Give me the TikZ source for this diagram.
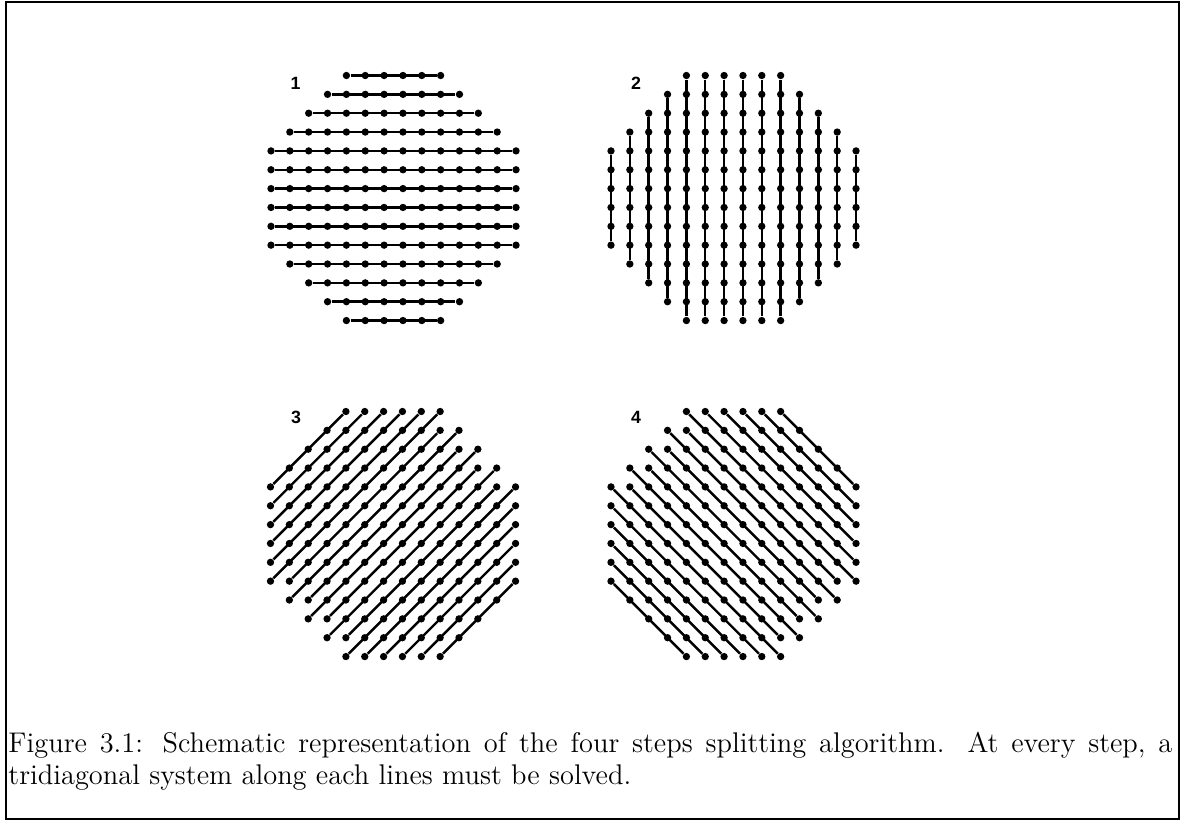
\documentclass[tikz,border=0pt]{standalone}
\usepackage{fontspec}
\newfontfamily\numfont{Liberation Sans}
\usetikzlibrary{positioning}

\begin{document}
\begin{tikzpicture}[
    x=0.45pt, y=-0.45pt,
    dot/.style={circle, fill=black, inner sep=0pt, minimum size=3.3pt},
    gridline/.style={line width=1.1pt},
    steplabel/.style={font=\numfont\bfseries\fontsize{8}{9}\selectfont, inner sep=0pt},
    frame/.style={line width=1pt}
]
\useasboundingbox (0,0) rectangle (1182,821);

% Frame
\draw[frame] (6,2) rectangle (1179,819);

\def\h{18.85}

% Step 1: horizontal lines
\begin{scope}[shift={(271,75.5)}]
\foreach \i in {0,...,13} {
  \pgfmathtruncatemacro\k{max(0,4-\i,\i-9)}
  \pgfmathtruncatemacro\l{13-\k}
  \foreach \j in {\k,...,\l}
    \node[dot] (a-\i-\j) at (\j*\h,\i*\h) {};
  \draw[gridline] (a-\i-\k) -- (a-\i-\l);
}
\end{scope}

% Step 2: vertical lines
\begin{scope}[shift={(611,75.5)}]
\foreach \j in {0,...,13} {
  \pgfmathtruncatemacro\k{max(0,4-\j,\j-9)}
  \pgfmathtruncatemacro\l{13-\k}
  \foreach \i in {\k,...,\l}
    \node[dot] (b-\i-\j) at (\j*\h,\i*\h) {};
  \draw[gridline] (b-\k-\j) -- (b-\l-\j);
}
\end{scope}

% Step 3: diagonals going up to the right
\begin{scope}[shift={(270.5,411.5)}]
\foreach \s in {4,...,22} {
  \pgfmathtruncatemacro\imin{max(0,\s-13,ceil((\s-9)/2))}
  \pgfmathtruncatemacro\imax{min(13,\s,floor((\s+9)/2))}
  \foreach \i in {\imin,...,\imax} {
    \pgfmathtruncatemacro\j{\s-\i}
    \node[dot] (c-\i-\j) at (\j*\h,\i*\h) {};
  }
  \pgfmathtruncatemacro\jmin{\s-\imax}
  \pgfmathtruncatemacro\jmax{\s-\imin}
  \draw[gridline] (c-\imax-\jmin) -- (c-\imin-\jmax);
}
\end{scope}

% Step 4: diagonals going down to the right
\begin{scope}[shift={(611,411.5)}]
\foreach \d in {-9,...,9} {
  \pgfmathtruncatemacro\imin{max(0,-1*(\d),ceil((4-(\d))/2))}
  \pgfmathtruncatemacro\imax{min(13,13-(\d),floor((22-(\d))/2))}
  \foreach \i in {\imin,...,\imax} {
    \pgfmathtruncatemacro\j{\i+(\d)}
    \node[dot] (d-\i-\j) at (\j*\h,\i*\h) {};
  }
  \pgfmathtruncatemacro\jmin{\imin+(\d)}
  \pgfmathtruncatemacro\jmax{\imax+(\d)}
  \draw[gridline] (d-\imin-\jmin) -- (d-\imax-\jmax);
}
\end{scope}

% Step numbers
\node[steplabel] (n1) at (295.5,83.5) {1};
\node[steplabel] (n2) at (636,83.5) {2};
\node[steplabel] (n3) at (296,417.5) {3};
\node[steplabel] (n4) at (636,417.5) {4};

% Caption
\node[anchor=base west, inner sep=0pt, text width=523.8pt, align=justify,
      font=\fontsize{12.8}{14.5}\selectfont] (caption) at (8,752)
  {Figure 3.1: Schematic representation of the four steps splitting algorithm. At every step,~a\linebreak tridiagonal system along each lines must be solved.};

\end{tikzpicture}
\end{document}
